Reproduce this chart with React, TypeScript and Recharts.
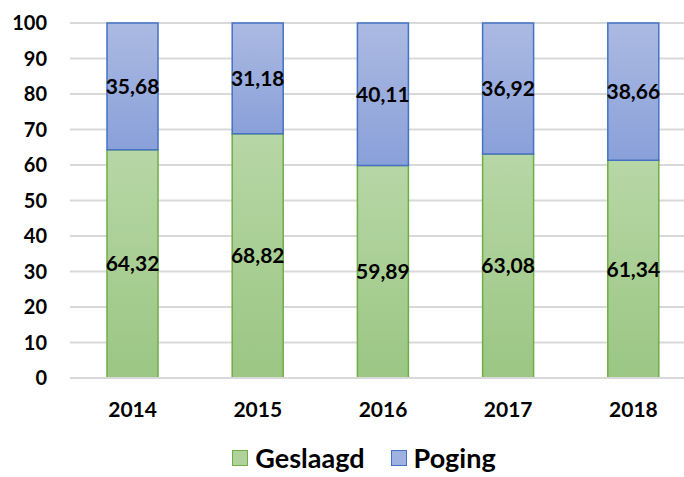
import { BarChart, Bar, XAxis, YAxis, CartesianGrid, Legend, LabelList } from 'recharts';

const years = ['2014', '2015', '2016', '2017', '2018'];
const geslaagd = [64.32, 68.82, 59.89, 63.08, 61.34];
const poging = [35.68, 31.18, 40.11, 36.92, 38.66];
const yTicks = [0, 10, 20, 30, 40, 50, 60, 70, 80, 90, 100];

const FONT = 'Lato, "Open Sans", sans-serif';

const data = years.map((year, i) => ({ year, geslaagd: geslaagd[i], poging: poging[i] }));

// Dutch style decimals
const fmt = (v: any) => Number(v).toFixed(2).replace('.', ',');

const legendItems = [
  { name: 'Geslaagd', fill: '#b0d29c', stroke: '#70ad47' },
  { name: 'Poging', fill: '#9fb1e0', stroke: '#4472c4' },
];

function CustomLegend() {
  return (
    <div style={{ display: 'flex', justifyContent: 'center', gap: 26, fontFamily: FONT, fontWeight: 700, fontSize: 27, lineHeight: '27px', color: '#000', paddingLeft: 32 }}>
      {legendItems.map((it) => (
        <div key={it.name} style={{ display: 'flex', alignItems: 'center', gap: 7 }}>
          <span style={{ display: 'inline-block', width: 14, height: 14, background: it.fill, border: `1.5px solid ${it.stroke}` }} />
          <span>{it.name}</span>
        </div>
      ))}
    </div>
  );
}

export default function App() {
  return (
    <div style={{ position: 'fixed', left: 0, top: 0, width: 684, height: 477, overflow: 'hidden', background: '#fff' }}>
      <BarChart width={700} height={477} data={data} margin={{ top: 23, right: 4, left: 0, bottom: 0 }} barSize={51}>
        <defs>
          <linearGradient id="gGreen" x1="0" y1="0" x2="0" y2="1">
            <stop offset="0%" stopColor="#b7d7a6" />
            <stop offset="100%" stopColor="#9bc683" />
          </linearGradient>
          <linearGradient id="gBlue" x1="0" y1="0" x2="0" y2="1">
            <stop offset="0%" stopColor="#abbae2" />
            <stop offset="100%" stopColor="#8aa0d9" />
          </linearGradient>
        </defs>
        <CartesianGrid vertical={false} stroke="#d9d9d9" strokeWidth={2} />
        <XAxis
          dataKey="year"
          axisLine={{ stroke: '#d9d9d9', strokeWidth: 2 }}
          tickLine={false}
          tickSize={0}
          tickMargin={24}
          height={72}
          tick={{ fill: '#000', fontSize: 21, fontWeight: 700, fontFamily: FONT }}
        />
        <YAxis
          domain={[0, 100]}
          ticks={yTicks}
          axisLine={false}
          tickLine={false}
          tickSize={0}
          tickMargin={23}
          width={70}
          interval={0}
          tick={{ fill: '#000', fontSize: 20, fontWeight: 700, fontFamily: FONT }}
        />
        <Legend verticalAlign="bottom" height={27} wrapperStyle={{ bottom: 6 }} content={() => <CustomLegend />} />
        <Bar dataKey="geslaagd" name="Geslaagd" stackId="a" fill="url(#gGreen)" stroke="#70ad47" strokeWidth={1.5} isAnimationActive={false}>
          <LabelList dataKey="geslaagd" position="center" formatter={fmt} fill="#000" fontSize={21} fontWeight={700} fontFamily={FONT} />
        </Bar>
        <Bar dataKey="poging" name="Poging" stackId="a" fill="url(#gBlue)" stroke="#4472c4" strokeWidth={1.5} isAnimationActive={false}>
          <LabelList dataKey="poging" position="center" formatter={fmt} fill="#000" fontSize={21} fontWeight={700} fontFamily={FONT} />
        </Bar>
      </BarChart>
    </div>
  );
}
